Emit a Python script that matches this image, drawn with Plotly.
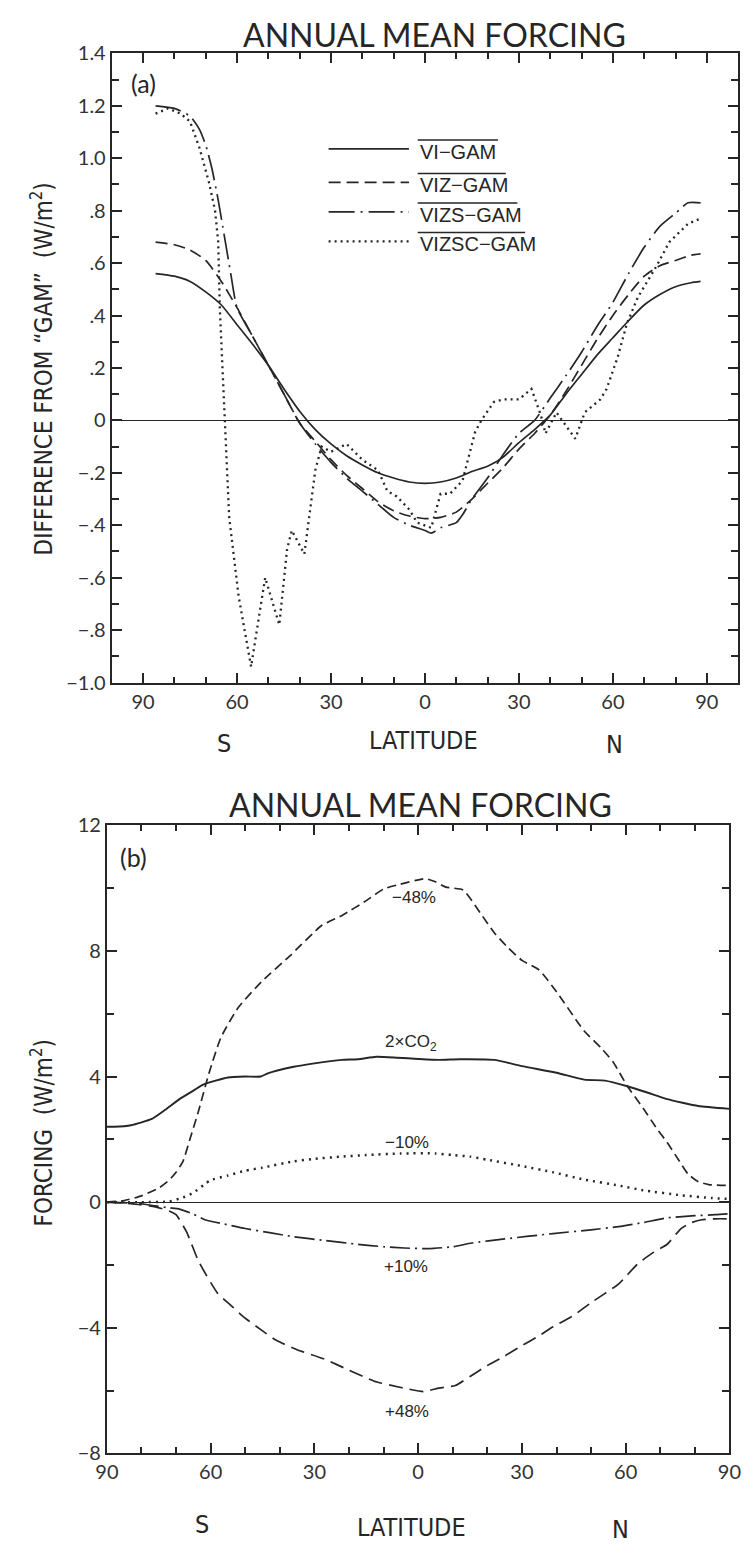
import plotly.graph_objects as go

# ---------------- Panel (a) data: difference from "GAM" (W/m2) ----------------
lat_a = [-86, -80, -75, -70, -65, -60, -55, -50, -45, -40, -35, -30, -25, -20, -15, -10, -5, 0,
         5, 10, 15, 20, 25, 30, 35, 40, 45, 50, 55, 60, 65, 70, 75, 80, 85, 88]
vi_gam = [0.56, 0.55, 0.53, 0.49, 0.44, 0.365, 0.29, 0.21, 0.12, 0.035, -0.035, -0.09, -0.135, -0.17,
          -0.20, -0.22, -0.235, -0.24, -0.235, -0.22, -0.195, -0.175, -0.14, -0.085, -0.035, 0.02,
          0.10, 0.175, 0.25, 0.315, 0.38, 0.44, 0.48, 0.51, 0.525, 0.53]
viz_gam = [0.68, 0.67, 0.65, 0.61, 0.53, 0.43, 0.32, 0.21, 0.10, -0.01, -0.08, -0.15, -0.21, -0.26,
           -0.31, -0.345, -0.365, -0.375, -0.37, -0.35, -0.30, -0.24, -0.18, -0.11, -0.05, 0.02,
           0.11, 0.21, 0.31, 0.40, 0.48, 0.55, 0.59, 0.61, 0.63, 0.635]

lat_vizs = [-86, -80, -75, -72, -70, -68, -66, -64, -62, -60, -55, -50, -45, -40, -35, -30, -25, -20,
            -15, -10, -5, 0, 2, 5, 10, 12, 15, 20, 25, 30, 35, 40, 45, 50, 55, 60, 65, 70, 75, 80, 84, 88]
vizs_gam = [1.20, 1.19, 1.16, 1.11, 1.05, 0.96, 0.84, 0.70, 0.56, 0.43, 0.32, 0.21, 0.10, -0.01,
            -0.09, -0.16, -0.22, -0.27, -0.32, -0.37, -0.40, -0.42, -0.43, -0.41, -0.39, -0.36,
            -0.30, -0.22, -0.13, -0.05, 0.0, 0.085, 0.17, 0.26, 0.36, 0.45, 0.56, 0.66, 0.74,
            0.79, 0.83, 0.83]

lat_vizsc = [-86, -82, -78, -75, -72, -69, -67, -66, -65.5, -64.5, -64, -62.5, -59.5, -57.5, -55.5,
             -53, -51, -49, -46.5, -44, -42.5, -38.5, -35, -33, -30, -25, -20, -15, -12, -9, -5,
             -2.5, 2, 5, 8, 12, 16, 18, 22, 25, 30, 34, 37, 38.5, 42, 45, 48, 51, 56, 58, 61.5,
             64.5, 68, 74, 78, 84, 88]
vizsc_gam = [1.17, 1.19, 1.17, 1.14, 1.04, 0.91, 0.80, 0.68, 0.43, 0.18, 0.0, -0.37, -0.67, -0.81,
             -0.94, -0.75, -0.60, -0.68, -0.78, -0.49, -0.42, -0.51, -0.19, -0.10, -0.12, -0.09,
             -0.15, -0.19, -0.27, -0.29, -0.34, -0.39, -0.41, -0.28, -0.28, -0.23, -0.045, 0.0,
             0.07, 0.08, 0.08, 0.12, 0.02, -0.05, 0.03, -0.02, -0.07, 0.03, 0.08, 0.12, 0.24,
             0.37, 0.47, 0.59, 0.68, 0.75, 0.77]

# ---------------- Panel (b) data: forcing (W/m2) ----------------
lat_co2 = [-90, -88, -83, -77, -73, -69, -65, -62, -55, -50, -45.5, -43.5, -36, -30, -22, -17.5, -12,
           -6, 0, 6, 12, 22, 30, 40, 48, 54, 60.5, 66, 72, 81, 90]
co2x2 = [2.4, 2.4, 2.45, 2.65, 2.95, 3.28, 3.55, 3.75, 3.97, 4.0, 4.0, 4.1, 4.31, 4.42, 4.53, 4.55,
         4.63, 4.6, 4.56, 4.53, 4.55, 4.53, 4.33, 4.12, 3.9, 3.87, 3.69, 3.5, 3.28, 3.06, 2.97]

lat_m48 = [-90, -85, -80, -75, -72, -70, -68, -66, -63.5, -60.5, -57, -52, -45, -37, -28, -22, -15,
           -10, -6, 2, 5, 8, 13, 18, 22, 26, 30, 35, 40, 48, 53, 56.5, 60.5, 65, 69, 72, 75.5, 78,
           81, 84, 90]
minus48 = [0.0, 0.05, 0.2, 0.45, 0.7, 0.95, 1.3, 2.0, 2.9, 4.1, 5.25, 6.2, 7.05, 7.85, 8.8, 9.13,
           9.6, 9.97, 10.1, 10.3, 10.2, 10.03, 9.94, 9.2, 8.58, 8.1, 7.7, 7.39, 6.7, 5.45, 4.9,
           4.44, 3.69, 3.0, 2.34, 1.9, 1.31, 0.9, 0.65, 0.56, 0.53]

lat_m10 = [-90, -80, -72, -68, -65, -62, -60, -55, -50, -45, -36, -30, -22, -15, -5, 5, 10, 15, 20,
           30, 39, 48, 58, 65, 76, 85, 90]
minus10 = [0.0, 0.0, 0.02, 0.15, 0.3, 0.55, 0.7, 0.85, 1.0, 1.1, 1.3, 1.38, 1.45, 1.5, 1.55, 1.55,
           1.5, 1.45, 1.35, 1.15, 0.95, 0.72, 0.53, 0.38, 0.22, 0.13, 0.1]

lat_p10 = [-90, -80, -76, -72, -69, -65, -61.7, -56, -50, -43, -36, -27, -17.5, -10, -4, 3, 10, 15.5,
           25, 39, 50, 58, 65, 72, 80, 86, 90]
plus10 = [0.0, -0.05, -0.12, -0.18, -0.22, -0.38, -0.56, -0.7, -0.84, -0.97, -1.1, -1.22, -1.34,
          -1.42, -1.46, -1.48, -1.42, -1.3, -1.17, -1.0, -0.88, -0.78, -0.65, -0.5, -0.43, -0.4, -0.37]

lat_p48 = [-90, -83, -76, -72, -70, -67, -63.4, -58, -54, -50.4, -45, -41, -35, -27, -20, -12.7, -5,
           1.5, 6, 10.7, 15, 20, 25, 29.5, 35, 39, 45, 50, 58, 63.4, 68, 72, 76, 79, 82, 86, 90]
plus48 = [0.0, -0.05, -0.15, -0.28, -0.4, -0.94, -1.9, -2.9, -3.3, -3.66, -4.1, -4.4, -4.7, -5.0,
          -5.35, -5.7, -5.9, -6.03, -5.92, -5.84, -5.55, -5.2, -4.9, -4.6, -4.25, -3.97, -3.6,
          -3.2, -2.6, -1.97, -1.6, -1.34, -0.84, -0.65, -0.56, -0.53, -0.53]

# tick labels
xa_vals = [-90, -60, -30, 0, 30, 60, 90]
xa_text = ["90", "60", "30", "0", "30", "60", "90"]
ya_vals = [1.4, 1.2, 1.0, 0.8, 0.6, 0.4, 0.2, 0, -0.2, -0.4, -0.6, -0.8, -1.0]
ya_text = ["1.4", "1.2", "1.0", ".8", ".6", ".4", ".2", "0", "\u2212.2", "\u2212.4", "\u2212.6", "\u2212.8", "\u22121.0"]
yb_vals = [12, 8, 4, 0, -4, -8]
yb_text = ["12", "8", "4", "0", "\u22124", "\u22128"]

legend_labels = ["VI\u2212GAM", "VIZ\u2212GAM", "VIZS\u2212GAM", "VIZSC\u2212GAM"]

# ---------------- styling ----------------
W, H = 755, 1555
INK = "#262626"
NUM_FONT = "Lato, 'Noto Sans', sans-serif"
NARROW = "'DejaVu Sans Condensed', 'Liberation Sans Narrow', 'DejaVu Sans', sans-serif"
HELV = "'Liberation Sans', Arial, sans-serif"
COND_STYLE = "font-family:'DejaVu Sans Condensed','Liberation Sans Narrow','DejaVu Sans';font-stretch:condensed"


def cond(s):
    return '<span style="%s">%s</span>' % (COND_STYLE, s)


def fx(p):
    return p / W


def fy(p):
    return 1 - p / H


dash_a = {
    "solid": "solid",
    "dash": "12px,6px",
    "dashdot": "26px,6px,2px,6px",
    "dot": "2px,4px",
}

fig = go.Figure()

series_a = [
    (lat_a, vi_gam, dash_a["solid"], "spline", 1.7),
    (lat_a, viz_gam, dash_a["dash"], "spline", 1.7),
    (lat_vizs, vizs_gam, dash_a["dashdot"], "spline", 1.7),
    (lat_vizsc, vizsc_gam, dash_a["dot"], "linear", 2.3),
]
for (xs, ys, dash, shape, w), name in zip(series_a, legend_labels):
    fig.add_trace(go.Scatter(x=xs, y=ys, mode="lines", name=name, xaxis="x", yaxis="y",
                             line=dict(color=INK, width=w, dash=dash, shape=shape, smoothing=0.6),
                             showlegend=False))

series_b = [
    (lat_co2, co2x2, "solid", 1.9),
    (lat_m48, minus48, "9px,5px", 1.7),
    (lat_m10, minus10, "2px,5px", 2.5),
    (lat_p10, plus10, "20px,5px,2px,5px", 1.7),
    (lat_p48, plus48, "14px,7px", 1.7),
]
for xs, ys, dash, w in series_b:
    fig.add_trace(go.Scatter(x=xs, y=ys, mode="lines", xaxis="x2", yaxis="y2",
                             line=dict(color=INK, width=w, dash=dash, shape="spline", smoothing=0.5),
                             showlegend=False))

axis_common = dict(
    showline=True, linewidth=2, linecolor=INK, mirror="allticks",
    ticks="inside", ticklen=10, tickwidth=1.5, tickcolor=INK,
    showgrid=False, zeroline=False,
    tickfont=dict(family=NUM_FONT, size=20, color="#333333"),
    tickmode="array",
)

fig.update_layout(
    width=W, height=H,
    margin=dict(l=0, r=0, t=0, b=0),
    paper_bgcolor="white", plot_bgcolor="white",
    xaxis=dict(axis_common, domain=[fx(103), fx(750)], range=[-100, 100], anchor="y",
               tickvals=xa_vals, ticktext=xa_text,
               minor=dict(tickvals=[-80, -70, -50, -40, -20, -10, 10, 20, 40, 50, 70, 80],
                          ticks="inside", ticklen=6, tickwidth=1.5, tickcolor=INK)),
    yaxis=dict(axis_common, domain=[fy(680), fy(41)], range=[-1.0, 1.4], anchor="x",
               tickvals=ya_vals, ticktext=ya_text,
               zeroline=True, zerolinecolor=INK, zerolinewidth=1,
               minor=dict(tickvals=[1.3, 1.1, 0.9, 0.7, 0.5, 0.3, 0.1, -0.1, -0.3, -0.5, -0.7, -0.9],
                          ticks="inside", ticklen=7, tickwidth=1.5, tickcolor=INK)),
    xaxis2=dict(axis_common, domain=[fx(98), fx(741)], range=[-90, 90], anchor="y2",
                tickvals=xa_vals, ticktext=xa_text,
                minor=dict(tickvals=[-80, -70, -50, -40, -20, -10, 10, 20, 40, 50, 70, 80],
                           ticks="inside", ticklen=6, tickwidth=1.5, tickcolor=INK)),
    yaxis2=dict(axis_common, domain=[fy(1463), fy(825)], range=[-8, 12], anchor="x2",
                tickvals=yb_vals, ticktext=yb_text,
                zeroline=True, zerolinecolor=INK, zerolinewidth=1,
                minor=dict(tickvals=[10, 6, 2, -2, -6],
                           ticks="inside", ticklen=7, tickwidth=1.5, tickcolor=INK)),
)

ann = []


def text(x, y, s, size, family, angle=0, xanchor="center", color=INK):
    ann.append(dict(x=fx(x), y=fy(y), xref="paper", yref="paper", text=s, showarrow=False,
                    xanchor=xanchor, yanchor="middle", textangle=angle,
                    font=dict(family=family, size=size, color=color)))


TITLE_FONT = "Lato, 'Noto Sans', sans-serif"
# Panel (a)
text(436, 22, "ANNUAL MEAN FORCING", 32, TITLE_FONT)
text(136, 71, "(a)", 25, TITLE_FONT)
text(31, 362, cond("DIFFERENCE FROM \u201cGAM\u201d  (W/m<sup>2</sup>)"), 24, NARROW, angle=-90)
text(219, 742, cond("S"), 25, NARROW)
text(425, 739, cond("LATITUDE"), 25, NARROW)
text(622, 743, cond("N"), 25, NARROW)
# Panel (b)
text(422, 804, "ANNUAL MEAN FORCING", 32, TITLE_FONT)
text(125, 857, "(b)", 25, TITLE_FONT)
text(31, 1138, cond("FORCING  (W/m<sup>2</sup>)"), 24, NARROW, angle=-90)
text(196, 1535, cond("S"), 25, NARROW)
text(413, 1538, cond("LATITUDE"), 25, NARROW)
text(628, 1540, cond("N"), 25, NARROW)

# curve labels in panel (b)
text(415, 898, "\u221248%", 17, HELV)
text(412, 1046, "2\u00d7CO<sub>2</sub>", 17, HELV)
text(408, 1147, "\u221210%", 17, HELV)
text(407, 1273, "+10%", 17, HELV)
text(408, 1420, "+48%", 17, HELV)

# legend of panel (a): sample lines + overlined labels
leg_rows = [138, 172, 202, 232]
leg_dash = [dash_a["solid"], dash_a["dash"], dash_a["dashdot"], dash_a["dot"]]
leg_w = [1.7, 1.7, 1.7, 2.3]
over_end = [502, 510, 522, 530]
shapes = []
for lab, yrow, dsh, lw, oend in zip(legend_labels, leg_rows, leg_dash, leg_w, over_end):
    shapes.append(dict(type="line", xref="paper", yref="paper", x0=fx(327), x1=fx(410),
                       y0=fy(yrow), y1=fy(yrow), line=dict(color=INK, width=lw, dash=dsh)))
    text(419, yrow + 3, lab, 20, HELV, xanchor="left")
    shapes.append(dict(type="line", xref="paper", yref="paper", x0=fx(419), x1=fx(oend),
                       y0=fy(yrow - 9), y1=fy(yrow - 9), line=dict(color=INK, width=1.4)))

fig.update_layout(annotations=ann, shapes=shapes)
fig.write_html("out.html")
